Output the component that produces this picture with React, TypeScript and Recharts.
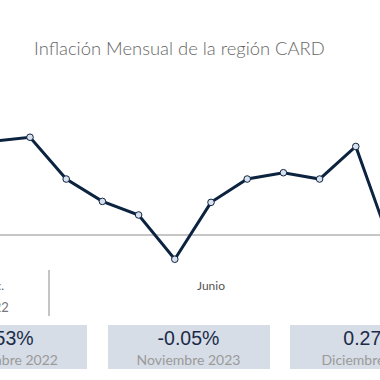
import React from 'react';
import { LineChart, Line, XAxis, YAxis, ReferenceLine } from 'recharts';

// Monthly inflation (%), index 0 sits just off the left edge
const monthIndex = [0, 1, 2, 3, 4, 5, 6, 7, 8, 9, 10, 11];
const inflation = [0.193, 0.201, 0.115, 0.069, 0.041, -0.05, 0.067, 0.115, 0.128, 0.115, 0.182, -0.027];

const tickPositions = [0, 6];
const tickMonths = ['Dic.', 'Junio'];
const tickYears = ['2022', ''];

const cardValues = ['0.53%', '-0.05%', '0.27%'];
const cardLabels = ['Noviembre 2022', 'Noviembre 2023', 'Diciembre 2023'];

const data = monthIndex.map((m, i) => ({ m, v: inflation[i] }));

const NAVY = '#0c2340';
const GEO = 'Lato, "Open Sans", sans-serif';

function MonthTick(props: any) {
  const { x, y, payload } = props;
  const k = tickPositions.indexOf(payload.value);
  return (
    <g>
      <text x={x} y={y + 26} textAnchor="middle" fontFamily={GEO} fontSize={12} fill="#555">
        {tickMonths[k]}
      </text>
      <text x={x} y={y + 48} textAnchor="middle" fontFamily={GEO} fontSize={13} fill="#777">
        {tickYears[k]}
      </text>
    </g>
  );
}

export default function App() {
  return (
    <div
      style={{
        position: 'fixed',
        left: 0,
        top: 0,
        width: 380,
        height: 380,
        overflow: 'hidden',
        background: '#fff',
      }}
    >
      <div
        style={{
          position: 'absolute',
          left: 34,
          top: 37,
          fontFamily: GEO,
          fontWeight: 300,
          fontSize: 18.4,
          color: '#666',
          whiteSpace: 'nowrap',
        }}
      >
        Inflación Mensual de la región CARD
      </div>

      <div style={{ position: 'absolute', left: -20, top: 118.1 }}>
        <LineChart
          width={432}
          height={196.08}
          data={data}
          margin={{ top: 10, right: 20, bottom: 0, left: 13.8 }}
        >
          <XAxis
            dataKey="m"
            type="number"
            domain={[0, 11]}
            ticks={tickPositions}
            tick={<MonthTick />}
            tickLine={false}
            axisLine={false}
            tickSize={0}
            tickMargin={0}
            height={50}
            interval={0}
          />
          <YAxis hide domain={[-0.06, 0.22]} />
          <ReferenceLine y={0} stroke="#c6c6c6" strokeWidth={2} />
          <Line
            type="linear"
            dataKey="v"
            stroke={NAVY}
            strokeWidth={3}
            dot={{ r: 3.3, fill: '#d9e1ee', stroke: NAVY, strokeWidth: 1 }}
            isAnimationActive={false}
          />
        </LineChart>
      </div>

      <div
        style={{
          position: 'absolute',
          left: 48,
          top: 270,
          width: 1.5,
          height: 46,
          background: '#c4c4c4',
        }}
      />

      {cardValues.map((val, i) => (
        <div
          key={i}
          style={{
            position: 'absolute',
            left: -75 + i * 182.5,
            top: 325,
            width: 162,
            height: 44,
            background: '#d6dde6',
            textAlign: 'center',
          }}
        >
          <div
            style={{
              position: 'absolute',
              left: 0,
              right: 0,
              top: 1,
              fontFamily: '"Liberation Sans", Arial, sans-serif',
              fontSize: 19.5,
              lineHeight: '24px',
              color: '#1b2b48',
            }}
          >
            {val}
          </div>
          <div
            style={{
              position: 'absolute',
              left: 0,
              right: 0,
              top: 26,
              fontFamily: GEO,
              fontSize: 14,
              lineHeight: '18px',
              color: '#9a9a9a',
              whiteSpace: 'nowrap',
            }}
          >
            {cardLabels[i]}
          </div>
        </div>
      ))}
    </div>
  );
}
